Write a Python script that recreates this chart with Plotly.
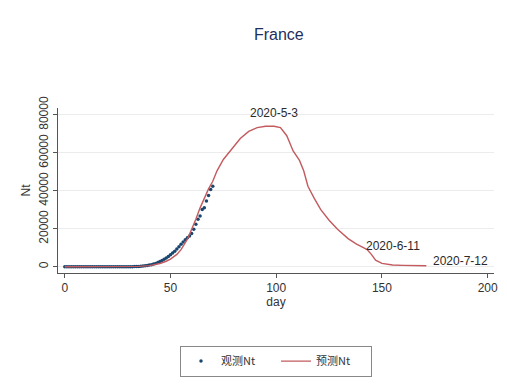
import plotly.graph_objects as go

# Observed data (day, Nt)
obs_day = list(range(0, 71))
obs_N = [0]*25 + [2, 3, 5, 8, 10,
                  20, 30, 50, 80, 120,
                  180, 250, 350, 480, 650,
                  850, 1100, 1400, 1750, 2200,
                  2700, 3300, 3900, 4600, 5400,
                  6300, 7200, 8200, 9300, 10500,
                  11800, 13000, 14200, 15300,
                  16200, 17500, 19700, 22400, 25000, 26700, 30200, 31100,
                  34600, 37500, 40700, 42400]

# Predicted curve (day, Nt)
pred_day = [0, 10, 20, 30, 35, 40, 43, 45, 48, 50, 53, 55, 58, 60, 62, 64, 66, 68, 70,
            72, 75, 79, 83, 87, 91, 95, 99, 102, 105, 108, 111, 113, 115, 118,
            121, 125, 129, 134, 138, 141, 143, 145, 147, 150, 155, 160, 165, 171]
pred_N = [0, 0, 10, 60, 200, 600, 1100, 1700, 2900, 4000, 6500, 9000, 14500, 19500,
          25000, 31000, 36500, 41000, 45000, 50500, 56500, 62000, 67500, 71300,
          73300, 74000, 74000, 73300, 69000, 61000, 56000, 50500, 42400, 36000,
          30200, 24500, 19700, 14800, 11900, 10200, 9000, 6500, 3500, 1800, 900,
          700, 600, 500]

ann_text = ["2020-5-3", "2020-6-11", "2020-7-12"]
ann_x = [99, 155, 187]
ann_y = [81000, 11000, 3000]

x_ticks = [0, 50, 100, 150, 200]
y_ticks = [0, 20000, 40000, 60000, 80000]
y_ticklabels = ["0", "20000", "40000", "60000", "80000"]

fig = go.Figure()
fig.add_trace(go.Scatter(x=obs_day, y=obs_N, mode="markers", name="观测Nt",
                         marker=dict(color="#1a476f", size=3.5)))
fig.add_trace(go.Scatter(x=pred_day, y=pred_N, mode="lines", name="预测Nt",
                         line=dict(color="#c25a5e", width=1.4)))

for t, x, y in zip(ann_text, ann_x, ann_y):
    fig.add_annotation(x=x, y=y, text=t, showarrow=False,
                       font=dict(size=12, color="#2a2a2a"))

fig.update_layout(
    width=507, height=385,
    margin=dict(l=58, r=9, t=108, b=111),
    paper_bgcolor="white", plot_bgcolor="white",
    font=dict(family="Liberation Sans, Arial, Noto Sans CJK SC", size=12, color="#333"),
    title=dict(text="France", x=0.55, xanchor="center", y=0.91, yanchor="middle",
               font=dict(size=16, color="#1e2f5e")),
    showlegend=True,
    legend=dict(orientation="h", x=0.5, xanchor="center", y=-0.44, yanchor="top",
                bordercolor="#888", borderwidth=1,
                font=dict(size=11, family="Noto Sans CJK SC, Liberation Sans", color="#333"),
                itemwidth=30, entrywidth=50),
    xaxis=dict(range=[-3.2, 203], tickvals=x_ticks, showgrid=False, zeroline=False,
               showline=True, linecolor="#555", linewidth=1, ticks="outside", ticklen=4,
               tickcolor="#555", title=dict(text="day", standoff=2, font=dict(size=12))),
    yaxis=dict(range=[-3300, 83600], tickvals=y_ticks, ticktext=y_ticklabels, tickangle=-90,
               showgrid=True, gridcolor="#ececec", zeroline=False,
               showline=True, linecolor="#555", linewidth=1, ticks="outside", ticklen=4,
               tickcolor="#555", title=dict(text="Nt", standoff=4, font=dict(size=12))),
)

fig.write_html("out.html")
